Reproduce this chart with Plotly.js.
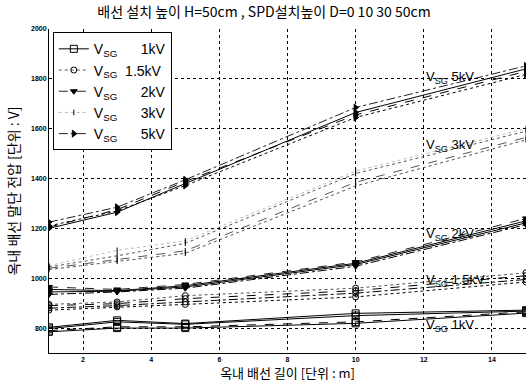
<!DOCTYPE html>
<html>
<head>
<meta charset="utf-8">
<script src="https://cdn.plot.ly/plotly-3.0.1.min.js"></script>
<style>html,body{margin:0;padding:0;background:#fff;}</style>
</head>
<body>
<div id="chart" style="width:528px;height:388px;"></div>
<script>
// Cable length [m]
const lengths = [1, 3, 5, 10, 15];
// SPD installation heights D (cm)
const heights = [0, 10, 30, 50];
// Group labels
const groupLabels = ['1kV', '1.5kV', '2kV', '3kV', '5kV'];

// Terminal voltage [V] per group, one row per D
const v1kV = [
  [803, 831, 818, 859, 872],
  [798, 825, 815, 850, 868],
  [790, 805, 805, 825, 865],
  [785, 800, 800, 819, 860]
];
const v15kV = [
  [895, 905, 930, 960, 1022],
  [890, 898, 918, 950, 1010],
  [880, 890, 905, 940, 995],
  [872, 885, 895, 925, 985]
];
const v2kV = [
  [965, 955, 975, 1065, 1240],
  [955, 950, 970, 1060, 1230],
  [945, 948, 965, 1055, 1222],
  [935, 945, 960, 1048, 1215]
];
const v3kV = [
  [1050, 1112, 1150, 1430, 1600],
  [1045, 1090, 1140, 1420, 1590],
  [1040, 1075, 1110, 1385, 1565],
  [1035, 1068, 1100, 1370, 1555]
];
const v5kV = [
  [1225, 1285, 1395, 1685, 1852],
  [1200, 1265, 1380, 1665, 1840],
  [1205, 1275, 1388, 1655, 1830],
  [1210, 1270, 1372, 1645, 1818]
];

// Label positions (in data units) for in-plot group labels
const labelY = [811, 992, 1175, 1534, 1807];
const labelX = 12;

const xTicks = [2, 4, 6, 8, 10, 12, 14];
const yTicks = [800, 1000, 1200, 1400, 1600, 1800, 2000];

const groups = [v1kV, v15kV, v2kV, v3kV, v5kV];
const markerSymbols = ['square-open', 'circle-open', 'triangle-down', 'line-ns-open', 'triangle-right'];
const markerSizes = [7, 6, 6, 4, 6];
const dashes = [
  ['solid', 'solid', 'dash', 'solid'],
  ['dot', 'dash', 'dashdot', 'dot'],
  ['dash', 'solid', 'solid', 'dashdot'],
  ['dot', 'dot', 'dash', 'dot'],
  ['dashdot', 'solid', 'dash', 'dot']
];
const legendColors = ['#000', '#555', '#222', '#bbb', '#222'];

const nb = '\u00a0';
const legendNames = [
  'V<sub>SG</sub>' + nb.repeat(6) + '1kV',
  'V<sub>SG</sub>' + nb.repeat(2) + '1.5kV',
  'V<sub>SG</sub>' + nb.repeat(6) + '2kV',
  'V<sub>SG</sub>' + nb.repeat(6) + '3kV',
  'V<sub>SG</sub>' + nb.repeat(6) + '5kV'
];

const traces = [];
groups.forEach((g, gi) => {
  g.forEach((row, di) => {
    const first = di === 0;
    const col = first ? legendColors[gi] : (gi === 3 ? '#555' : '#000');
    traces.push({
      x: lengths,
      y: row,
      type: 'scatter',
      mode: 'lines+markers',
      name: first ? legendNames[gi] : groupLabels[gi] + ' D=' + heights[di],
      showlegend: first,
      legendrank: gi,
      line: {color: col, width: 1, dash: dashes[gi][di]},
      marker: {symbol: markerSymbols[gi], size: markerSizes[gi], color: '#000',
               line: {color: '#000', width: 1}}
    });
  });
});

const annotations = groupLabels.map((lab, i) => ({
  x: labelX, y: labelY[i], xref: 'x', yref: 'y',
  xanchor: 'left', yanchor: 'middle',
  text: 'V<sub>SG</sub> ' + lab,
  showarrow: false,
  font: {family: 'Liberation Sans, Arial', size: 13, color: '#000'}
}));

const korean = 'Noto Sans CJK KR';
const layout = {
  width: 528, height: 388,
  margin: {l: 49, r: 2, t: 29, b: 35, pad: 0},
  paper_bgcolor: '#fff', plot_bgcolor: '#fff',
  showlegend: true,
  title: {
    text: '배선 설치 높이 H=50cm , SPD설치높이 D=0 10 30 50cm',
    font: {family: korean, size: 14, color: '#000'},
    x: 0.5, xanchor: 'center', y: 0.97, yanchor: 'middle'
  },
  legend: {
    x: 0.008, y: 0.99, xanchor: 'left', yanchor: 'top',
    bgcolor: '#fff', bordercolor: '#000', borderwidth: 1,
    font: {family: 'Liberation Sans, Arial', size: 14, color: '#000'},
    tracegroupgap: 0, itemwidth: 30
  },
  xaxis: {
    range: [1, 15], tickvals: xTicks, ticktext: xTicks.map(String),
    showgrid: true, gridcolor: '#000', griddash: 'dot', gridwidth: 1,
    showline: true, linecolor: '#000', linewidth: 1, zeroline: false,
    ticks: '', tickfont: {family: 'Liberation Sans, Arial', size: 7, color: '#000', weight: 'bold'},
    title: {text: '옥내 배선 길이 [단위 : m]', font: {family: korean, size: 13, color: '#000'}, standoff: 2},
    automargin: false
  },
  yaxis: {
    range: [700, 2000], tickvals: yTicks, ticktext: yTicks.map(String),
    showgrid: true, gridcolor: '#000', griddash: 'dot', gridwidth: 1,
    showline: true, linecolor: '#000', linewidth: 1, zeroline: false,
    ticks: '', tickfont: {family: 'Liberation Sans, Arial', size: 7, color: '#000', weight: 'bold'},
    title: {text: '옥내 배선 말단 전압 [단위 : V]', font: {family: korean, size: 14, color: '#000'}, standoff: 8},
    automargin: false
  },
  annotations: annotations
};

Plotly.newPlot('chart', traces, layout, {displayModeBar: false, staticPlot: true});
</script>
</body>
</html>
